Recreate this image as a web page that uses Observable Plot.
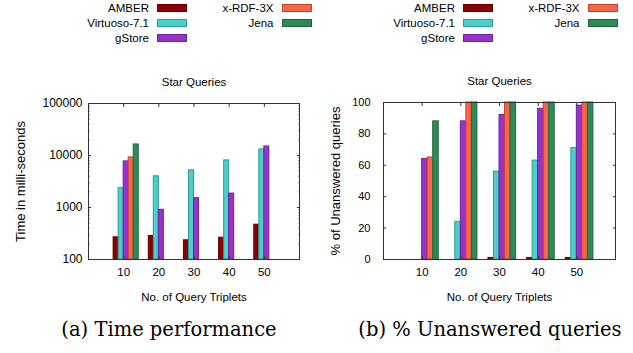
<!DOCTYPE html>
<html><head><meta charset="utf-8">
<script src="https://cdn.jsdelivr.net/npm/d3@7"></script>
<script src="https://cdn.jsdelivr.net/npm/@observablehq/plot@0.6"></script>
<style>
body{margin:0;background:#fff;}
#root{position:relative;width:633px;height:353px;overflow:hidden;font-family:"Liberation Sans",Arial,sans-serif;color:#000;}
.panel{position:absolute;top:60px;}
.legt{position:absolute;width:120px;text-align:right;font-size:11.5px;line-height:14px;white-space:nowrap;}
.legs{position:absolute;box-sizing:border-box;width:30px;height:8px;border:1px solid;}
.cap{position:absolute;width:316px;text-align:center;font-family:"DejaVu Serif",serif;font-size:19.5px;line-height:24px;white-space:nowrap;}
</style></head><body><div id="root"></div><script>
// ---- data ----
const groups = [10, 20, 30, 40, 50];
const series = ["AMBER", "Virtuoso-7.1", "gStore", "x-RDF-3X", "Jena"];
const colors = ["#8b0000", "#48d1cc", "#9932cc", "#ff6347", "#2e8b57"];
// Time in milli-seconds (null = no bar)
const timeAMBER    = [267, 284, 234, 263, 467];
const timeVirtuoso = [2350, 3980, 5190, 8050, 13100];
const timeGStore   = [7710, 904, 1510, 1850, 14900];
const timeXRDF     = [9200, null, null, null, null];
const timeJena     = [16300, null, null, null, null];
// % of unanswered queries
const unAMBER    = [0, 0, 1, 1, 1];
const unVirtuoso = [0, 24, 56, 63, 71];
const unGStore   = [64, 88, 92, 96, 98];
const unXRDF     = [65, 100, 100, 100, 100];
const unJena     = [88, 100, 100, 100, 100];
// tick labels
const timeTicks = [100, 1000, 10000, 100000];
const timeMinor = [2,3,4,5,6,7,8,9].flatMap(m => [100, 1000, 10000].map(p => m * p));
const pctTicks = [0, 20, 40, 60, 80, 100];
const title = "Star Queries";
const xLabel = "No. of Query Triplets";
const captions = ["(a) Time performance", "(b) % Unanswered queries"];

const root = document.getElementById("root");
const dark = c => d3.color(c).darker(0.9).formatHex();

function rowsOf(arrs) {
  const rows = [];
  arrs.forEach((vals, j) => vals.forEach((v, i) => {
    if (v != null && v > 0) rows.push({g: i + 1, j, v, name: series[j]});
  }));
  return rows;
}

function panel(o) {
  const rows = rowsOf(o.values);
  const gi = groups.map((_, i) => i + 1);
  const base = o.domain[0];
  const marks = [
    Plot.rect(rows, {
      x1: d => d.g + (d.j - 2) / 7, x2: d => d.g + (d.j - 1) / 7,
      y1: () => base, y2: "v",
      fill: d => colors[d.j], stroke: d => dark(colors[d.j]), strokeWidth: 1
    }),
    Plot.frame({stroke: "#333", strokeWidth: 1}),
    // tick labels
    Plot.axisY(o.ticks, {anchor: "left", tickSize: 0, tickPadding: o.yPad, tickFormat: d => String(d), fontSize: o.yFont, label: null}),
    Plot.axisX(gi, {anchor: "bottom", tickSize: 0, tickPadding: 8, tickFormat: i => String(groups[i - 1]), fontSize: 11.5, label: null}),
    // inward major ticks
    Plot.axisY(o.ticks, {anchor: "left", tickSize: 3, dx: 3, tickFormat: () => "", label: null, stroke: "#333"}),
    Plot.axisY(o.ticks, {anchor: "right", tickSize: 3, dx: -3, tickFormat: () => "", label: null, stroke: "#333"}),
    Plot.axisX(gi, {anchor: "top", tickSize: 3, dy: 3, tickFormat: () => "", label: null, stroke: "#333"}),
    Plot.axisX(gi, {anchor: "bottom", tickSize: 3, dy: -3, tickFormat: () => "", label: null, stroke: "#333"}),
    // titles
    Plot.text([title], {text: d => d, frameAnchor: "top", dy: -21, textAnchor: "middle", lineAnchor: "middle", fontSize: 11.5}),
    Plot.text([xLabel], {text: d => d, frameAnchor: "bottom", dy: 38, textAnchor: "middle", lineAnchor: "middle", fontSize: 11.5}),
    Plot.text([o.yLabel], {text: d => d, frameAnchor: "left", rotate: -90, dx: -o.yLabelDx, textAnchor: "middle", lineAnchor: "middle", fontSize: 13})
  ];
  if (o.minor) {
    marks.push(Plot.axisY(o.minor, {anchor: "left", tickSize: 1.5, dx: 1.5, tickFormat: () => "", label: null, stroke: "#333"}));
    marks.push(Plot.axisY(o.minor, {anchor: "right", tickSize: 1.5, dx: -1.5, tickFormat: () => "", label: null, stroke: "#333"}));
  }
  const chart = Plot.plot({
    width: o.width, height: 250,
    marginLeft: o.mL, marginRight: o.mR, marginTop: o.mT, marginBottom: o.mB,
    style: {fontFamily: "Liberation Sans, Arial, sans-serif", fontSize: "11.5px", color: "#000", background: "transparent"},
    x: {type: "linear", domain: [0, 6]},
    y: {type: o.type, domain: o.domain},
    marks
  });
  chart.classList.add("panel");
  chart.style.left = o.left + "px";
  root.appendChild(chart);
}

panel({values: [timeAMBER, timeVirtuoso, timeGStore, timeXRDF, timeJena],
  type: "log", domain: [100, 100000], ticks: timeTicks, minor: timeMinor,
  yLabel: "Time in milli-seconds", width: 316, left: 0,
  mL: 88, mR: 17, mT: 43, mB: 51, yPad: 6, yFont: 12, yLabelDx: 68});
panel({values: [unAMBER, unVirtuoso, unGStore, unXRDF, unJena],
  type: "linear", domain: [0, 100], ticks: pctTicks, minor: null,
  yLabel: "% of Unanswered queries", width: 317, left: 316,
  mL: 67, mR: 18, mT: 42, mB: 51, yPad: 13, yFont: 11, yLabelDx: 48});

// legends
[0, 306].forEach(off => {
  series.forEach((s, j) => {
    const col = j < 3 ? 0 : 1, row = j < 3 ? j : j - 3;
    const cy = 7.6 + row * 15;
    const t = document.createElement("div");
    t.className = "legt"; t.textContent = s;
    t.style.left = (off + [149, 273.5][col] - 120) + "px";
    t.style.top = (cy - 7) + "px";
    root.appendChild(t);
    const b = document.createElement("div");
    b.className = "legs";
    b.style.left = (off + [157.3, 281.7][col]) + "px";
    b.style.top = (cy - 4) + "px";
    b.style.background = colors[j];
    b.style.borderColor = dark(colors[j]);
    root.appendChild(b);
  });
});

// captions
captions.forEach((c, i) => {
  const d = document.createElement("div");
  d.className = "cap"; d.textContent = c;
  d.style.left = ([169, 490][i] - 158) + "px";
  d.style.top = (330 - 12) + "px";
  root.appendChild(d);
});
</script></body></html>
